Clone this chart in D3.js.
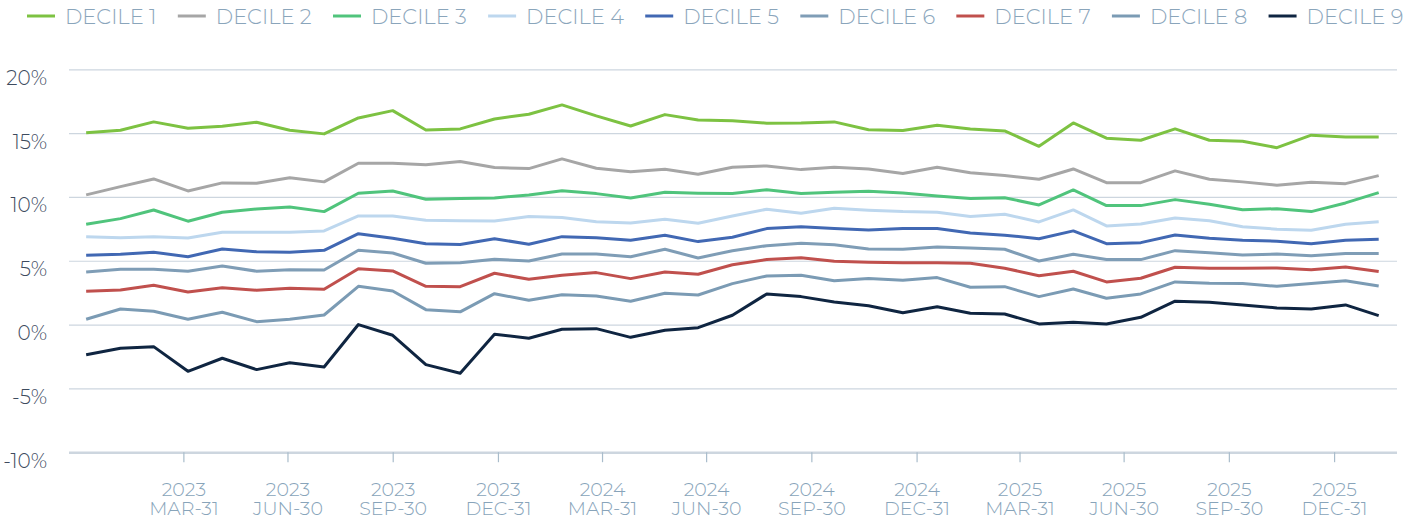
<!DOCTYPE html>
<html lang="en">
<head>
<meta charset="UTF-8"/>
<title>Deciles</title>
<script src="https://d3js.org/d3.v7.min.js"></script>
<style>
  body { margin: 0; background: #fff; }
  svg text { font-family: Montserrat, "Open Sans", sans-serif; font-weight: 300; }
</style>
</head>
<body>
<script>
var w = 1418;
var h = 518;

// observation dates (roughly every 30 days)
var dates = ["2023-01-05","2023-02-04","2023-03-05","2023-04-04","2023-05-04","2023-06-03","2023-07-02","2023-08-01",
  "2023-08-31","2023-09-30","2023-10-29","2023-11-28","2023-12-28","2024-01-27","2024-02-25","2024-03-26",
  "2024-04-25","2024-05-25","2024-06-23","2024-07-23","2024-08-22","2024-09-21","2024-10-20","2024-11-19",
  "2024-12-19","2025-01-18","2025-02-16","2025-03-18","2025-04-17","2025-05-17","2025-06-15","2025-07-15",
  "2025-08-14","2025-09-13","2025-10-12","2025-11-11","2025-12-11","2026-01-10","2026-02-08"];

var decile1 = [15.02,15.23,15.88,15.38,15.54,15.85,15.23,14.94,16.19,16.76,15.25,15.33,16.11,16.48,17.21,16.35,
  15.56,16.45,16.03,15.96,15.78,15.80,15.88,15.27,15.20,15.62,15.33,15.17,13.97,15.80,14.60,14.44,15.33,14.44,
  14.37,13.86,14.84,14.70,14.70];
var decile2 = [10.16,10.81,11.41,10.47,11.10,11.07,11.51,11.18,12.64,12.64,12.53,12.77,12.30,12.22,12.98,12.25,
  11.98,12.17,11.78,12.33,12.43,12.14,12.33,12.19,11.83,12.33,11.90,11.67,11.39,12.19,11.12,11.12,12.04,11.39,
  11.18,10.92,11.15,11.04,11.67];
var decile3 = [7.86,8.30,8.98,8.10,8.80,9.06,9.22,8.85,10.29,10.47,9.82,9.87,9.92,10.16,10.49,10.26,9.92,10.37,
  10.29,10.26,10.57,10.26,10.37,10.45,10.31,10.08,9.87,9.94,9.37,10.55,9.32,9.32,9.79,9.43,9.00,9.08,8.85,9.53,10.34];
var decile4 = [6.89,6.81,6.89,6.79,7.23,7.23,7.23,7.34,8.51,8.51,8.17,8.14,8.12,8.46,8.38,8.06,7.96,8.25,7.94,
  8.51,9.04,8.72,9.11,8.96,8.85,8.80,8.46,8.64,8.04,8.98,7.73,7.88,8.35,8.14,7.67,7.47,7.39,7.86,8.06];
var decile5 = [5.43,5.51,5.67,5.32,5.92,5.71,5.67,5.82,7.12,6.76,6.34,6.28,6.73,6.29,6.89,6.81,6.61,7.00,6.50,
  6.84,7.52,7.67,7.52,7.41,7.52,7.52,7.18,7.00,6.73,7.34,6.34,6.42,7.02,6.76,6.61,6.53,6.34,6.61,6.68];
var decile6 = [4.12,4.33,4.33,4.18,4.59,4.18,4.30,4.28,5.82,5.61,4.80,4.84,5.12,4.98,5.53,5.53,5.32,5.90,5.22,
  5.79,6.18,6.37,6.26,5.92,5.90,6.07,6.00,5.90,4.98,5.51,5.09,5.09,5.79,5.63,5.45,5.53,5.40,5.56,5.56];
var decile7 = [2.61,2.71,3.08,2.55,2.89,2.69,2.84,2.77,4.38,4.20,3.00,2.97,4.02,3.55,3.86,4.07,3.60,4.12,3.94,
  4.69,5.09,5.24,4.96,4.88,4.85,4.84,4.80,4.41,3.83,4.18,3.34,3.63,4.49,4.41,4.41,4.44,4.30,4.51,4.15];
var decile8 = [0.42,1.22,1.04,0.42,0.96,0.23,0.42,0.75,3.00,2.63,1.17,1.00,2.42,1.90,2.34,2.24,1.83,2.45,2.32,
  3.21,3.81,3.86,3.44,3.60,3.47,3.68,2.92,2.97,2.19,2.79,2.06,2.40,3.34,3.24,3.21,3.00,3.21,3.44,3.03];
var decile9 = [-2.36,-1.86,-1.73,-3.66,-2.64,-3.53,-2.99,-3.32,0.00,-0.84,-3.14,-3.81,-0.76,-1.07,-0.37,-0.32,
  -1.00,-0.45,-0.24,0.73,2.40,2.19,1.77,1.48,0.93,1.40,0.89,0.83,0.05,0.18,0.05,0.57,1.83,1.75,1.54,1.30,1.22,1.54,0.70];

var seriesNames = ["DECILE 1","DECILE 2","DECILE 3","DECILE 4","DECILE 5","DECILE 6","DECILE 7","DECILE 8","DECILE 9"];
var seriesValues = [decile1, decile2, decile3, decile4, decile5, decile6, decile7, decile8, decile9];
var colors = ["#7dc242","#a6a6a6","#50c47c","#bdd7ee","#4168b3","#7f9db6","#c0504d","#7b9bb4","#0f2541"];

var tickDates = ["2023-03-31","2023-06-30","2023-09-30","2023-12-31","2024-03-31","2024-06-30",
  "2024-09-30","2024-12-31","2025-03-31","2025-06-30","2025-09-30","2025-12-31"];
var yTicks = [-10, -5, 0, 5, 10, 15, 20];

var parse = d3.timeParse("%Y-%m-%d");

// plot area edges ("top" is a reserved window property, so prefixed names)
var plotLeft = 69, plotRight = 1397, plotTop = 69.3, plotBottom = 452.2;

var x = d3.scaleTime()
    .domain([parse("2022-12-21"), parse("2026-02-24")])
    .range([plotLeft, plotRight]);
var y = d3.scaleLinear()
    .domain([-10, 20])
    .range([plotBottom, plotTop]);

var svg = d3.select("body").append("svg")
    .attr("width", w)
    .attr("height", h);

// horizontal gridlines + y labels
var yAxis = svg.append("g")
    .attr("transform", "translate(" + plotLeft + ",0)")
    .call(d3.axisLeft(y).tickValues(yTicks).tickSize(-(plotRight - plotLeft)).tickPadding(22)
        .tickFormat(function (d) { return d + "%"; }));
yAxis.select(".domain").remove();
yAxis.selectAll(".tick line")
    .attr("stroke", "#cdd6df")
    .attr("stroke-width", function (d) { return d === -10 ? 2.5 : 1.2; });
yAxis.selectAll(".tick text")
    .attr("fill", "#3d4b5e")
    .attr("font-size", "20px")
    .attr("dy", "15px");

// x axis ticks and two-line labels
var fmtYear = d3.timeFormat("%Y");
var fmtDay = d3.timeFormat("%b-%d");
var xAxis = svg.append("g")
    .attr("transform", "translate(0," + plotBottom + ")")
    .call(d3.axisBottom(x).tickValues(tickDates.map(parse)).tickSize(10).tickFormat(""));
xAxis.select(".domain").remove();
xAxis.selectAll(".tick line").attr("stroke", "#a9bccb").attr("stroke-width", 1.2);
xAxis.selectAll(".tick").each(function (d) {
    var t = d3.select(this).append("text")
        .attr("fill", "#88a4ba")
        .attr("font-size", "19px")
        .attr("text-anchor", "middle");
    t.append("tspan").attr("x", 0).attr("y", 44).text(fmtYear(d));
    t.append("tspan").attr("x", 0).attr("y", 63).text(fmtDay(d).toUpperCase());
});

// lines
var line = d3.line()
    .x(function (d, i) { return x(parse(dates[i])); })
    .y(function (d) { return y(d); });

svg.selectAll(".series")
    .data(seriesValues)
    .enter()
    .append("path")
    .attr("class", "series")
    .attr("fill", "none")
    .attr("stroke", function (d, i) { return colors[i]; })
    .attr("stroke-width", 3)
    .attr("stroke-linejoin", "round")
    .attr("d", line);

// legend
var legend = svg.append("g");
var lx = 27;
seriesNames.forEach(function (name, i) {
    legend.append("line")
        .attr("x1", lx).attr("x2", lx + 28)
        .attr("y1", 16).attr("y2", 16)
        .attr("stroke", colors[i])
        .attr("stroke-width", 3);
    var t = legend.append("text")
        .attr("x", lx + 38)
        .attr("y", 24)
        .attr("fill", "#8aa5bb")
        .attr("font-size", "21px")
        .text(name);
    lx += 38 + t.node().getComputedTextLength() + 21.3;
});
</script>
</body>
</html>
